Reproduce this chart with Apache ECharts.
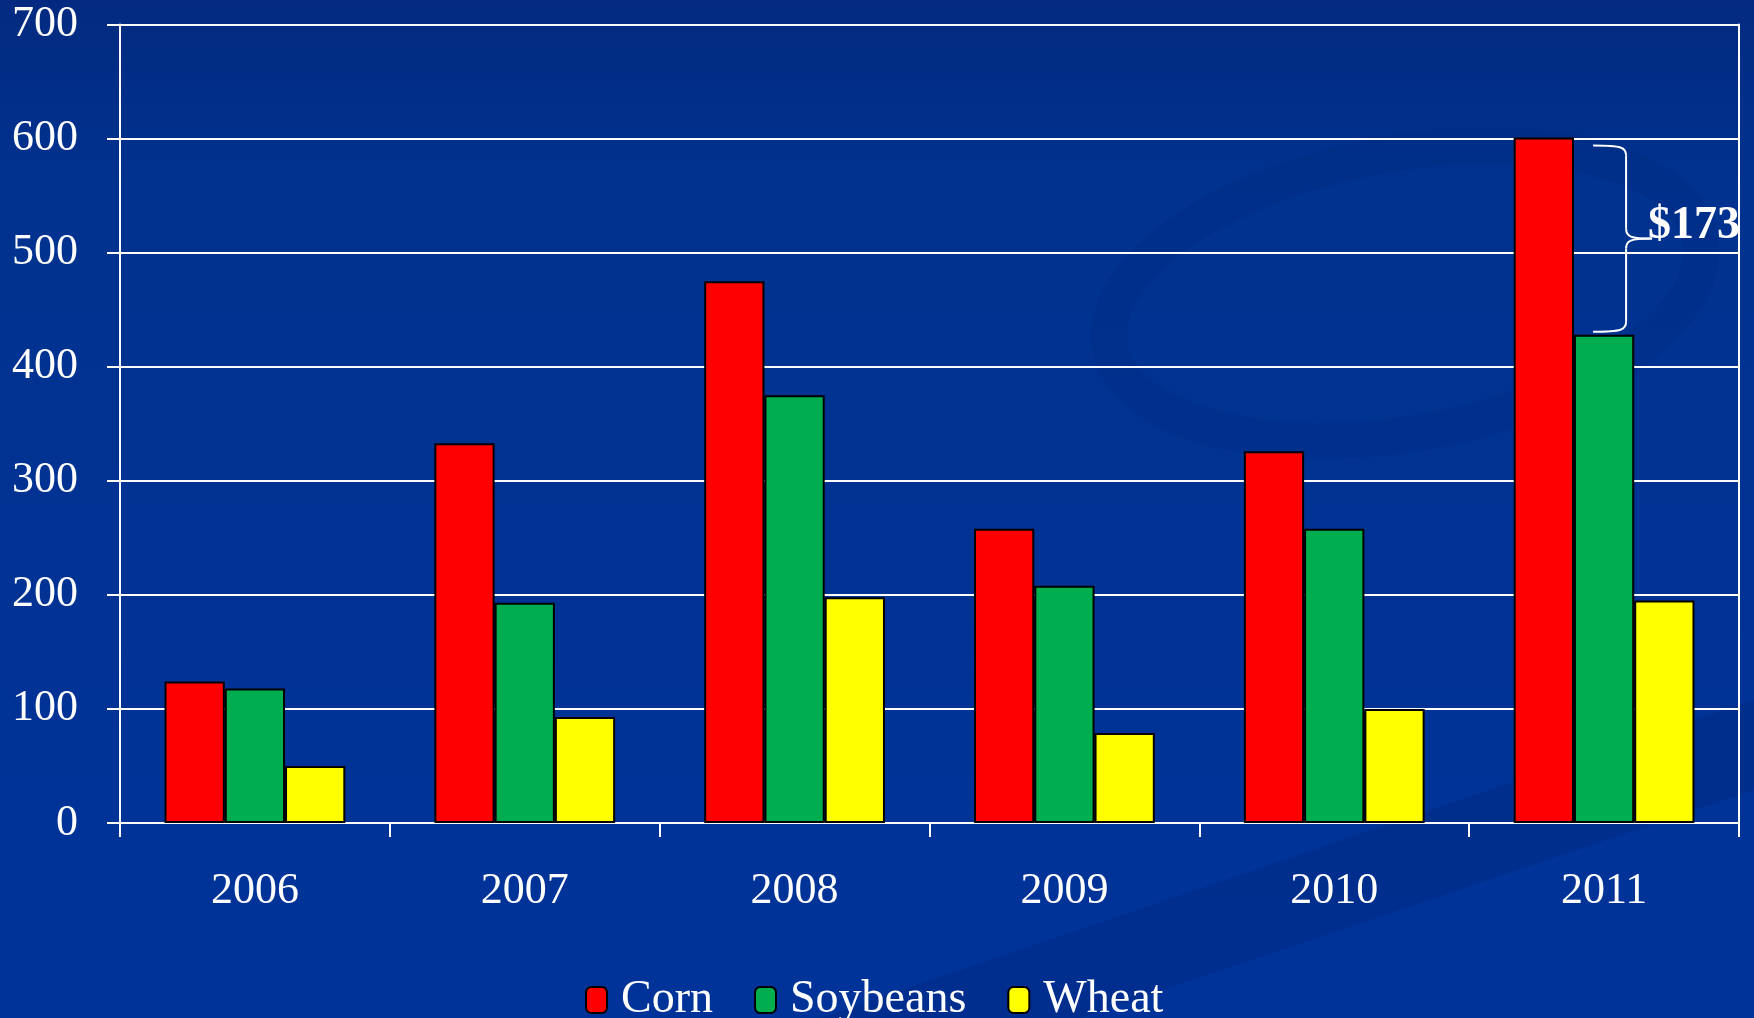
<!DOCTYPE html>
<html>
<head>
<meta charset="utf-8">
<script src="https://cdn.jsdelivr.net/npm/echarts@6/dist/echarts.min.js"></script>
<style>
  html, body { margin: 0; padding: 0; background: #003399; }
  #chart { width: 1754px; height: 1018px; }
</style>
</head>
<body>
<div id="chart"></div>
<script>
var years = ['2006', '2007', '2008', '2009', '2010', '2011'];
var corn = [124, 333, 475, 258, 326, 601];
var soybeans = [118, 193, 375, 208, 258, 428];
var wheat = [50, 93, 198, 79, 100, 195];
var yTicks = [0, 100, 200, 300, 400, 500, 600, 700];

var serif = '"Liberation Serif", "DejaVu Serif", serif';

var chart = echarts.init(document.getElementById('chart'));

function barSeries(name, data, color) {
  return {
    name: name,
    type: 'bar',
    data: data,
    barGap: '0%',
    barCategoryGap: '33%',
    itemStyle: { color: color, borderColor: '#000', borderWidth: 2 }
  };
}

chart.setOption({
  animation: false,
  backgroundColor: {
    type: 'linear', x: 0, y: 0, x2: 0, y2: 1,
    colorStops: [
      { offset: 0, color: '#032a80' },
      { offset: 0.18, color: '#00328f' },
      { offset: 1, color: '#003399' }
    ]
  },
  grid: { left: 120, right: 15, top: 24.5, bottom: 195 },
  legend: {
    left: 580,
    top: 972,
    itemWidth: 21,
    itemHeight: 26,
    itemGap: 41,
    textStyle: { color: '#fff', fontFamily: serif, fontSize: 46, padding: [0, 0, 0, 9] },
    data: ['Corn', 'Soybeans', 'Wheat']
  },
  xAxis: {
    type: 'category',
    data: years,
    axisLine: { lineStyle: { color: '#fff', width: 2 } },
    axisTick: { show: true, length: 14, lineStyle: { color: '#fff', width: 2 } },
    axisLabel: { color: '#fff', fontFamily: serif, fontSize: 44, margin: 46 }
  },
  yAxis: [{
    type: 'value',
    min: yTicks[0],
    max: yTicks[yTicks.length - 1],
    interval: 100,
    axisLine: { show: true, lineStyle: { color: '#fff', width: 2 } },
    axisTick: { show: true, length: 13, lineStyle: { color: '#fff', width: 2 } },
    axisLabel: { color: '#fff', fontFamily: serif, fontSize: 44, margin: 42 },
    splitLine: { lineStyle: { color: '#fff', width: 2 } }
  }, {
    type: 'value',
    position: 'right',
    min: yTicks[0],
    max: yTicks[yTicks.length - 1],
    interval: 100,
    axisLine: { show: true, lineStyle: { color: '#fff', width: 2 } },
    axisTick: { show: false },
    axisLabel: { show: false },
    splitLine: { show: false }
  }],
  series: [
    barSeries('Corn', corn, '#ff0000'),
    barSeries('Soybeans', soybeans, '#00ae4f'),
    barSeries('Wheat', wheat, '#ffff00')
  ]
});

// bracket showing the 2011 corn - soybean gap
var last = years.length - 1;
var gap = corn[last] - soybeans[last];
var cx = chart.convertToPixel({ xAxisIndex: 0 }, years[last]);
var yTop = chart.convertToPixel({ yAxisIndex: 0 }, corn[last]) + 8;
var yBot = chart.convertToPixel({ yAxisIndex: 0 }, soybeans[last]) - 3;
var yMid = (yTop + yBot) / 2;
var L = cx - 11, M = cx + 22, T = cx + 48;
var braceStyle = { fill: 'none', stroke: '#fff', lineWidth: 2 };

function curve(x1, y1, cpx1, cpy1, cpx2, cpy2, x2, y2) {
  return {
    type: 'bezierCurve', silent: true, z: 100,
    shape: { x1: x1, y1: y1, cpx1: cpx1, cpy1: cpy1, cpx2: cpx2, cpy2: cpy2, x2: x2, y2: y2 },
    style: braceStyle
  };
}
function seg(x1, y1, x2, y2) {
  return {
    type: 'line', silent: true, z: 100,
    shape: { x1: x1, y1: y1, x2: x2, y2: y2 },
    style: braceStyle
  };
}

chart.setOption({
  graphic: [
    {
      type: 'polygon', z: -10, silent: true,
      shape: { points: [[820, 1018], [1754, 700], [1754, 790], [1080, 1018]] },
      style: { fill: 'rgba(0, 25, 100, 0.18)' }
    },
    {
      type: 'ellipse', z: -10, silent: true,
      rotation: 0.18,
      shape: { cx: 1330, cy: 540, rx: 300, ry: 140 },
      style: { fill: 'none', stroke: 'rgba(0, 25, 100, 0.1)', lineWidth: 36 }
    },
    curve(L, yTop, M - 4, yTop, M, yTop + 2, M, yTop + 10),
    seg(M, yTop + 10, M, yMid - 10),
    curve(M, yMid - 10, M, yMid - 2, M + 4, yMid, T, yMid),
    curve(T, yMid, M + 4, yMid, M, yMid + 2, M, yMid + 10),
    seg(M, yMid + 10, M, yBot - 10),
    curve(M, yBot - 10, M, yBot - 2, M - 4, yBot, L, yBot),
    {
      type: 'text', z: 100,
      x: cx + 44,
      y: yMid - 12,
      style: {
        text: '$' + gap,
        fill: '#fff',
        font: 'bold 46px ' + serif,
        textVerticalAlign: 'middle'
      }
    }
  ]
});
</script>
</body>
</html>
